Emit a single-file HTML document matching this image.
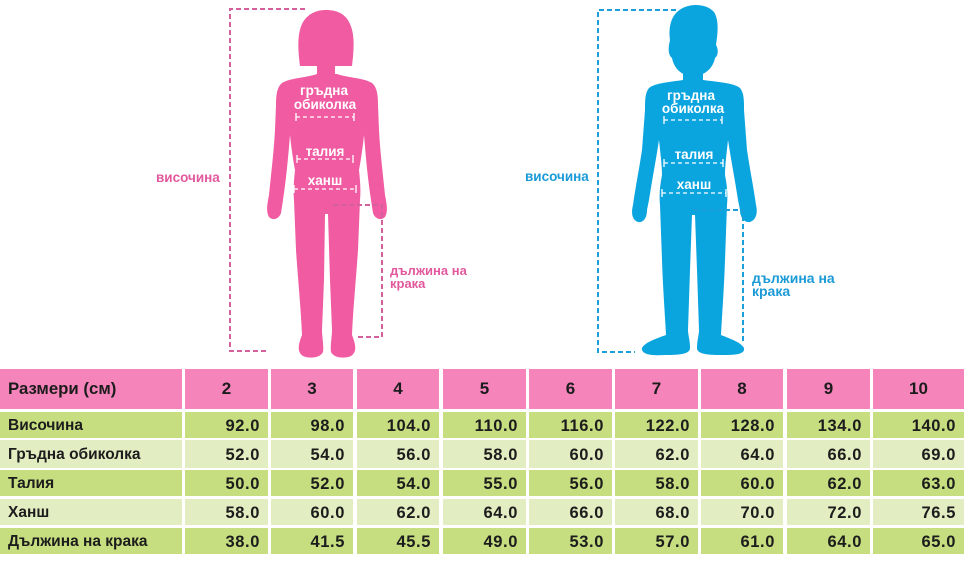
<!DOCTYPE html>
<html><head><meta charset="utf-8">
<style>
html,body{margin:0;padding:0;background:#fff;}
body{width:968px;height:564px;position:relative;overflow:hidden;font-family:"Liberation Sans","DejaVu Sans",sans-serif;}
svg{position:absolute;left:0;top:0;}
.c{position:absolute;box-sizing:border-box;font-weight:bold;font-size:15.5px;color:#1c1c1c;display:flex;align-items:center;white-space:nowrap;padding-top:2px;}
.h{background:#f484ba;justify-content:center;font-size:17px;padding-top:0;}
.h0{background:#f484ba;padding-left:8px;font-size:16.8px;padding-top:0;}
.d{background:#c6dd80;justify-content:flex-end;padding-right:8px;font-size:16.5px;letter-spacing:0.6px;}
.l{background:#e3edc2;justify-content:flex-end;padding-right:8px;font-size:16.5px;letter-spacing:0.6px;}
.d0{background:#c6dd80;padding-left:8px;}
.l0{background:#e3edc2;padding-left:8px;}
</style></head><body>
<svg width="968" height="364" viewBox="0 0 968 364" xmlns="http://www.w3.org/2000/svg">
<!-- girl -->
<g fill="#f05ba2">
<path d="M 300,66 C 298,50 297,35 302,24 C 307,14 316,10 326,10 C 337,10 346,14 350,24 C 355,35 354,50 352,66 Z"/>
<rect x="317" y="60" width="18" height="22"/>
<path d="M 317,74 C 305,78 290,78 282,83 C 277,87 276,95 276,105 L 275,130 C 274,150 271,175 269,195 C 267,205 266,212 269,217 C 273,221 279,219 281,213 L 283,200 C 286,180 288,160 290,135 C 291,145 293,160 295,170 C 294,180 293,190 294,200 L 296,250 C 298,280 301,310 302,335 C 298,345 297,352 303,356 C 310,359 320,358 323,352 C 324,345 322,338 322,330 L 324,280 L 325,214 L 328,214 L 330,280 L 332,330 C 332,338 330,345 331,352 C 334,358 344,359 351,356 C 357,352 356,345 352,335 C 353,310 356,280 358,250 L 360,200 C 361,190 360,180 359,170 C 361,160 363,145 364,135 C 366,160 368,180 371,200 L 373,213 C 375,219 381,221 385,217 C 388,212 387,205 385,195 C 383,175 380,150 379,130 L 378,105 C 378,95 377,87 372,83 C 364,78 349,78 337,74 Z"/>
</g>
<g stroke="#d2609c" stroke-width="2" fill="none" stroke-dasharray="5 3">
<polyline points="305,9 230,9 230,351 266,351"/>
<polyline points="333,205 382,205 382,337 358,337"/>
</g>
<g font-family="Liberation Sans, sans-serif" font-weight="bold" font-size="13.5" fill="#fff" text-anchor="middle">
<text x="324" y="95">гръдна</text>
<text x="325" y="109">обиколка</text>
<text x="325" y="156">талия</text>
<text x="325" y="185">ханш</text>
</g>
<g stroke="#fff" stroke-width="1.3" fill="none">
<line x1="296" y1="117" x2="354" y2="117" stroke-dasharray="4 3"/>
<line x1="296" y1="113" x2="296" y2="121"/><line x1="354" y1="113" x2="354" y2="121"/>
<line x1="297" y1="159" x2="353" y2="159" stroke-dasharray="4 3"/>
<line x1="297" y1="155" x2="297" y2="163"/><line x1="353" y1="155" x2="353" y2="163"/>
<line x1="294" y1="189" x2="356" y2="189" stroke-dasharray="4 3"/>
<line x1="294" y1="185" x2="294" y2="193"/><line x1="356" y1="185" x2="356" y2="193"/>
</g>
<g font-family="Liberation Sans, sans-serif" font-weight="bold" font-size="13.5" fill="#e2589d">
<text x="156" y="182">височина</text>
</g>
<g font-family="Liberation Sans, sans-serif" font-weight="bold" font-size="13" fill="#e2589d">
<text x="390" y="275">дължина на</text>
<text x="390" y="288">крака</text>
</g>
<!-- boy -->
<g fill="#0aa4df">
<path d="M 670,40 C 668,25 672,12 685,7 C 695,3 708,5 714,12 C 719,20 718,32 716,45 C 718,48 719,55 715,58 C 713,68 705,76 693,76 C 681,76 674,68 672,58 C 668,55 668,48 670,40 Z"/>
<rect x="683" y="65" width="20" height="22"/>
<path d="M 683,80 C 670,82 655,83 649,88 C 645,93 645,100 645,110 L 642,150 C 639,170 635,190 633,205 C 631,213 632,220 638,222 C 644,223 647,217 647,210 L 649,200 C 652,180 656,160 659,140 C 660,150 662,165 662,175 C 660,185 659,195 660,205 L 662,260 C 663,290 665,315 666,335 C 658,338 645,342 642,348 C 641,354 650,356 665,355 C 680,355 690,354 690,348 C 690,340 688,335 688,330 L 690,270 L 692,215 L 695,215 L 697,270 L 699,330 C 699,335 697,340 697,348 C 697,354 707,355 722,355 C 737,355 745,354 744,348 C 741,342 728,338 721,335 C 722,315 724,290 725,260 L 727,205 C 728,195 727,185 725,175 C 725,165 727,150 728,140 C 731,160 735,180 738,200 L 740,210 C 740,217 744,223 750,222 C 756,220 758,213 756,205 C 754,190 750,170 747,150 L 744,110 C 744,100 744,93 740,88 C 734,83 718,82 703,80 Z"/>
</g>
<g stroke="#1a9fd8" stroke-width="2" fill="none" stroke-dasharray="5 3">
<polyline points="676,10 598,10 598,352 635,352"/>
<polyline points="693,210 743,210 743,342"/>
</g>
<g font-family="Liberation Sans, sans-serif" font-weight="bold" font-size="13.5" fill="#fff" text-anchor="middle">
<text x="691" y="100">гръдна</text>
<text x="693" y="113">обиколка</text>
<text x="694" y="159">талия</text>
<text x="694" y="189">ханш</text>
</g>
<g stroke="#fff" stroke-width="1.3" fill="none">
<line x1="664" y1="120" x2="722" y2="120" stroke-dasharray="4 3"/>
<line x1="664" y1="116" x2="664" y2="124"/><line x1="722" y1="116" x2="722" y2="124"/>
<line x1="664" y1="163" x2="723" y2="163" stroke-dasharray="4 3"/>
<line x1="664" y1="159" x2="664" y2="167"/><line x1="723" y1="159" x2="723" y2="167"/>
<line x1="662" y1="193" x2="726" y2="193" stroke-dasharray="4 3"/>
<line x1="662" y1="189" x2="662" y2="197"/><line x1="726" y1="189" x2="726" y2="197"/>
</g>
<g font-family="Liberation Sans, sans-serif" font-weight="bold" font-size="13.5" fill="#1a9ad6">
<text x="525" y="181">височина</text>
</g>
<g font-family="Liberation Sans, sans-serif" font-weight="bold" font-size="14" fill="#1a9ad6">
<text x="752" y="283">дължина на</text>
<text x="752" y="296">крака</text>
</g>
</svg>

<!-- table header -->
<div class="c h0" style="left:0;top:369px;width:182px;height:40px;">Размери (см)</div>
<div class="c h" style="left:185px;top:369px;width:83px;height:40px;">2</div>
<div class="c h" style="left:271px;top:369px;width:82px;height:40px;">3</div>
<div class="c h" style="left:357px;top:369px;width:82px;height:40px;">4</div>
<div class="c h" style="left:443px;top:369px;width:83px;height:40px;">5</div>
<div class="c h" style="left:529px;top:369px;width:83px;height:40px;">6</div>
<div class="c h" style="left:615px;top:369px;width:83px;height:40px;">7</div>
<div class="c h" style="left:701px;top:369px;width:82px;height:40px;">8</div>
<div class="c h" style="left:787px;top:369px;width:83px;height:40px;">9</div>
<div class="c h" style="left:873px;top:369px;width:91px;height:40px;">10</div>

<!-- row 1 -->
<div class="c d0" style="left:0;top:412px;width:182px;height:26px;">Височина</div>
<div class="c d" style="left:185px;top:412px;width:83px;height:26px;">92.0</div>
<div class="c d" style="left:271px;top:412px;width:82px;height:26px;">98.0</div>
<div class="c d" style="left:357px;top:412px;width:82px;height:26px;">104.0</div>
<div class="c d" style="left:443px;top:412px;width:83px;height:26px;">110.0</div>
<div class="c d" style="left:529px;top:412px;width:83px;height:26px;">116.0</div>
<div class="c d" style="left:615px;top:412px;width:83px;height:26px;">122.0</div>
<div class="c d" style="left:701px;top:412px;width:82px;height:26px;">128.0</div>
<div class="c d" style="left:787px;top:412px;width:83px;height:26px;">134.0</div>
<div class="c d" style="left:873px;top:412px;width:91px;height:26px;">140.0</div>

<!-- row 2 -->
<div class="c l0" style="left:0;top:440px;width:182px;height:28px;">Гръдна обиколка</div>
<div class="c l" style="left:185px;top:440px;width:83px;height:28px;">52.0</div>
<div class="c l" style="left:271px;top:440px;width:82px;height:28px;">54.0</div>
<div class="c l" style="left:357px;top:440px;width:82px;height:28px;">56.0</div>
<div class="c l" style="left:443px;top:440px;width:83px;height:28px;">58.0</div>
<div class="c l" style="left:529px;top:440px;width:83px;height:28px;">60.0</div>
<div class="c l" style="left:615px;top:440px;width:83px;height:28px;">62.0</div>
<div class="c l" style="left:701px;top:440px;width:82px;height:28px;">64.0</div>
<div class="c l" style="left:787px;top:440px;width:83px;height:28px;">66.0</div>
<div class="c l" style="left:873px;top:440px;width:91px;height:28px;">69.0</div>

<!-- row 3 -->
<div class="c d0" style="left:0;top:470px;width:182px;height:26px;">Талия</div>
<div class="c d" style="left:185px;top:470px;width:83px;height:26px;">50.0</div>
<div class="c d" style="left:271px;top:470px;width:82px;height:26px;">52.0</div>
<div class="c d" style="left:357px;top:470px;width:82px;height:26px;">54.0</div>
<div class="c d" style="left:443px;top:470px;width:83px;height:26px;">55.0</div>
<div class="c d" style="left:529px;top:470px;width:83px;height:26px;">56.0</div>
<div class="c d" style="left:615px;top:470px;width:83px;height:26px;">58.0</div>
<div class="c d" style="left:701px;top:470px;width:82px;height:26px;">60.0</div>
<div class="c d" style="left:787px;top:470px;width:83px;height:26px;">62.0</div>
<div class="c d" style="left:873px;top:470px;width:91px;height:26px;">63.0</div>

<!-- row 4 -->
<div class="c l0" style="left:0;top:499px;width:182px;height:26px;">Ханш</div>
<div class="c l" style="left:185px;top:499px;width:83px;height:26px;">58.0</div>
<div class="c l" style="left:271px;top:499px;width:82px;height:26px;">60.0</div>
<div class="c l" style="left:357px;top:499px;width:82px;height:26px;">62.0</div>
<div class="c l" style="left:443px;top:499px;width:83px;height:26px;">64.0</div>
<div class="c l" style="left:529px;top:499px;width:83px;height:26px;">66.0</div>
<div class="c l" style="left:615px;top:499px;width:83px;height:26px;">68.0</div>
<div class="c l" style="left:701px;top:499px;width:82px;height:26px;">70.0</div>
<div class="c l" style="left:787px;top:499px;width:83px;height:26px;">72.0</div>
<div class="c l" style="left:873px;top:499px;width:91px;height:26px;">76.5</div>

<!-- row 5 -->
<div class="c d0" style="left:0;top:528px;width:182px;height:26px;">Дължина на крака</div>
<div class="c d" style="left:185px;top:528px;width:83px;height:26px;">38.0</div>
<div class="c d" style="left:271px;top:528px;width:82px;height:26px;">41.5</div>
<div class="c d" style="left:357px;top:528px;width:82px;height:26px;">45.5</div>
<div class="c d" style="left:443px;top:528px;width:83px;height:26px;">49.0</div>
<div class="c d" style="left:529px;top:528px;width:83px;height:26px;">53.0</div>
<div class="c d" style="left:615px;top:528px;width:83px;height:26px;">57.0</div>
<div class="c d" style="left:701px;top:528px;width:82px;height:26px;">61.0</div>
<div class="c d" style="left:787px;top:528px;width:83px;height:26px;">64.0</div>
<div class="c d" style="left:873px;top:528px;width:91px;height:26px;">65.0</div>
</body></html>
